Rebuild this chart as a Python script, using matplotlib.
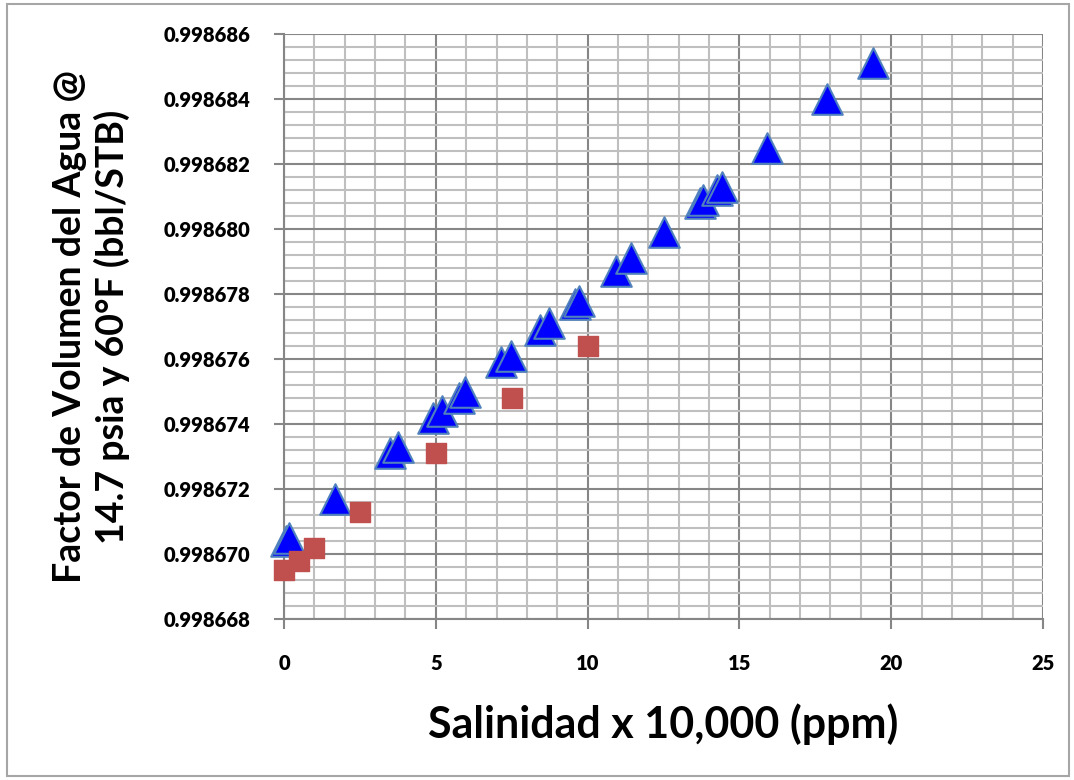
import matplotlib.pyplot as plt
from matplotlib.ticker import MultipleLocator, FormatStrFormatter
from matplotlib.patches import Rectangle

# salinity (x 10,000 ppm) vs water FVF, two series
sal_tri = [0.05, 0.15, 1.68, 3.49, 3.77, 4.92, 5.19, 5.77, 5.96, 7.16, 7.49, 8.43, 8.72,
           9.60, 9.71, 10.93, 11.43, 12.53, 13.70, 13.81, 14.25, 14.42, 15.92, 17.90, 19.39]
bw_tri = [0.9986704, 0.9986705, 0.9986717, 0.9986731, 0.9986733, 0.9986742, 0.9986744,
          0.9986748, 0.9986750, 0.9986759, 0.9986761, 0.9986769, 0.9986771, 0.9986777,
          0.9986778, 0.9986787, 0.9986791, 0.9986799, 0.9986808, 0.9986809, 0.9986812,
          0.9986813, 0.9986825, 0.9986840, 0.9986851]

sal_sq = [0.0, 0.5, 1.0, 2.5, 5.0, 7.5, 10.0]
bw_sq = [0.9986695, 0.9986698, 0.9986702, 0.9986713, 0.9986731, 0.9986748, 0.9986764]

xlabel = 'Salinidad x 10,000 (ppm)'
ylabel = 'Factor de Volumen del Agua @\n14.7 psia y 60°F (bbl/STB)'

plt.rcParams['font.family'] = ['Lato', 'DejaVu Sans']
plt.rcParams['font.weight'] = 'bold'

fig = plt.figure(figsize=(10.74, 7.8), dpi=100)
ax = fig.add_axes([284 / 1074, 1 - 619 / 780, (1043 - 284) / 1074, (619 - 34) / 780])

# chart border
fig.patches.append(Rectangle((7 / 1074, 4 / 780), 1 - 12 / 1074, 1 - 8 / 780,
                             transform=fig.transFigure, fill=False,
                             edgecolor='#A6A6A6', linewidth=1.5))

ax.scatter(sal_tri, bw_tri, marker='^', s=22 ** 2, color='#0000FF',
           edgecolors='#4F81BD', linewidths=1.5, zorder=3, clip_on=False)
ax.scatter(sal_sq, bw_sq, marker='s', s=14 ** 2, color='#C0504D',
           edgecolors='#C0504D', linewidths=1, zorder=4, clip_on=False)

ax.set_xlim(0, 25)
ax.set_ylim(0.998668, 0.998686)
ax.xaxis.set_major_locator(MultipleLocator(5))
ax.xaxis.set_minor_locator(MultipleLocator(1))
ax.yaxis.set_major_locator(MultipleLocator(0.000002))
ax.yaxis.set_minor_locator(MultipleLocator(0.0000004))
ax.yaxis.set_major_formatter(FormatStrFormatter('%.6f'))

ax.grid(which='major', color='#868686', linewidth=1.5, zorder=0)
ax.grid(which='minor', color='#BFBFBF', linewidth=1.5, zorder=0)
ax.set_axisbelow(True)

for s in ['top', 'right']:
    ax.spines[s].set_visible(False)
for s in ['left', 'bottom']:
    ax.spines[s].set_color('#868686')
    ax.spines[s].set_linewidth(1.5)

ax.tick_params(which='major', direction='out', length=7, width=1.5, color='#868686',
               labelsize=14.5)
ax.tick_params(which='minor', length=0)
ax.tick_params(axis='x', pad=18)
ax.tick_params(axis='y', pad=17)
for lab in ax.get_xticklabels() + ax.get_yticklabels():
    lab.set_fontweight('heavy')

ax.set_xlabel(xlabel, fontsize=31, fontweight='bold', labelpad=22)
ax.set_ylabel(ylabel, fontsize=27, fontweight='bold', labelpad=24, linespacing=1.25)

fig.savefig('out.png', dpi=100, facecolor='white')
